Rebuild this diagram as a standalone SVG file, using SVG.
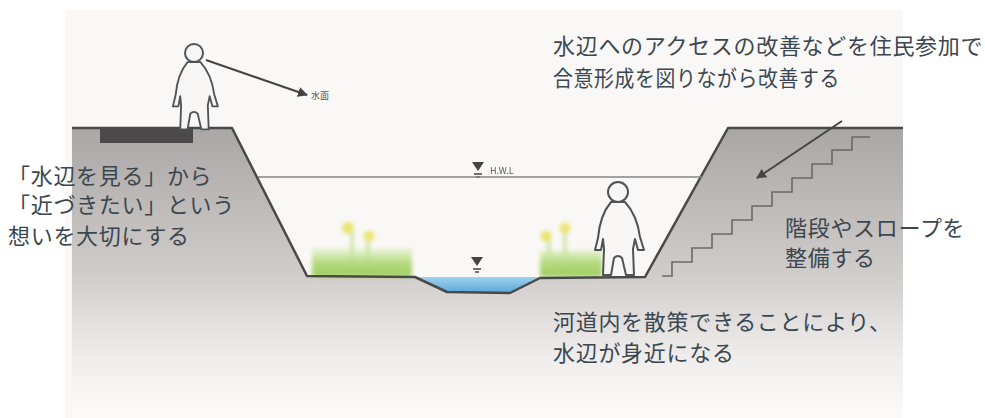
<svg xmlns="http://www.w3.org/2000/svg" xmlns:xlink="http://www.w3.org/1999/xlink" width="985" height="418" viewBox="0 0 985 418">
  <defs>
    <style>
      .label { font-family: "Noto Sans CJK JP", "Noto Sans", sans-serif; font-size: 22px; fill: #3b4750; letter-spacing: 0.7px; }
      .tiny { font-family: "Noto Sans CJK JP", "Liberation Sans", sans-serif; font-size: 9px; fill: #555; }
      .profile { fill: none; stroke: #4a4a4a; stroke-width: 2.5; stroke-linejoin: round; }
      .figure { fill: #f7f6f5; stroke: #4e5357; stroke-width: 2; stroke-linejoin: round; }
      .arrow { stroke: #444; stroke-width: 2; fill: none; }
    </style>
    <linearGradient id="earth" x1="0" y1="128" x2="0" y2="418" gradientUnits="userSpaceOnUse">
      <stop offset="0" stop-color="#aaa6a5"/>
      <stop offset="0.5" stop-color="#d0ccca"/>
      <stop offset="0.8" stop-color="#f0eeed"/>
      <stop offset="1" stop-color="#fcfbfa"/>
    </linearGradient>
    <linearGradient id="water" x1="0" y1="277" x2="0" y2="293" gradientUnits="userSpaceOnUse">
      <stop offset="0" stop-color="#9fd3f0"/>
      <stop offset="1" stop-color="#5aa6d6"/>
    </linearGradient>
    <linearGradient id="grassFill" x1="0" y1="246" x2="0" y2="277" gradientUnits="userSpaceOnUse">
      <stop offset="0" stop-color="#d8ecb4" stop-opacity="0.3"/>
      <stop offset="0.5" stop-color="#b8dc84"/>
      <stop offset="1" stop-color="#9ccd5c"/>
    </linearGradient>
    <filter id="soft" x="-20%" y="-20%" width="140%" height="140%">
      <feGaussianBlur stdDeviation="2"/>
    </filter>
    <filter id="slight" x="-5%" y="-5%" width="110%" height="110%">
      <feGaussianBlur stdDeviation="0.6"/>
    </filter>
    <marker id="head" viewBox="0 0 10 10" refX="9" refY="5" markerWidth="5" markerHeight="5" orient="auto">
      <path d="M0,0 L10,5 L0,10 Z" fill="#444"/>
    </marker>
    <!-- standing figure, head centred at the origin -->
    <path id="body" d="M-7,10 Q-18,23 -20,46 L-23,58 L-17,58 L-15,47 L-14,57 L-15,83 L-7,83 L-4,66 Q0,62 4,66 L8,83 L16,83 L15,57 L17,47 L20,58 L26,58 L22,45 Q19,23 7,10 Z"/>
    <!-- water-level mark -->
    <g id="wl">
      <path d="M-6,-5 L6,-5 L0,4 Z" fill="#444"/>
      <path d="M-4,7 H4 M-2,10 H2" stroke="#444" stroke-width="1.5"/>
    </g>
  </defs>

  <!-- paper -->
  <rect x="0" y="0" width="985" height="418" fill="#ffffff"/>
  <rect x="65" y="10" width="838" height="408" fill="#faf8f7"/>

  <!-- ground section -->
  <g id="ground" filter="url(#slight)">
    <path d="M72,128 L232,128 L307,276 L415,277 L447,292 L510,293 L540,278 L645,277 L728,128 L903,128 L903,418 L72,418 Z" fill="url(#earth)"/>
    <rect x="100" y="129" width="93" height="14" fill="#4c4a4a"/>
  </g>

  <!-- water in the low-flow channel -->
  <g id="water-body" filter="url(#slight)">
    <path d="M418,277 L447,292 L510,293 L540,277 Z" fill="url(#water)"/>
  </g>

  <!-- grass and flowers -->
  <g id="vegetation" filter="url(#soft)">
    <path d="M352,232 V262 M368,240 V262 M549,238 V262 M565,230 V262" stroke="#c2e096" stroke-width="3"/>
    <rect x="312" y="248" width="100" height="29" fill="url(#grassFill)"/>
    <rect x="540" y="250" width="62" height="27" fill="url(#grassFill)"/>
    <circle cx="348" cy="228" r="6" fill="#e9e36a"/>
    <circle cx="369" cy="236" r="5.5" fill="#ebe570"/>
    <circle cx="546" cy="236" r="5.5" fill="#e9e36a"/>
    <circle cx="565" cy="228" r="5.5" fill="#ebe570"/>
  </g>

  <!-- section outline -->
  <g id="outline" filter="url(#slight)">
    <path class="profile" d="M72,128 L232,128 L307,276 L415,277 L447,292 L510,293 L540,278 L645,277 L728,128 L903,128"/>
    <path d="M662,276 H672 V262 H692 V248 H712 V234 H732 V220 H752 V206 H772 V192 H792 V178 H812 V164 H832 V150 H852 V137 H870" fill="none" stroke="#6a6a6a" stroke-width="1.6"/>
  </g>

  <!-- people -->
  <g id="person-left" filter="url(#slight)">
    <circle cx="194" cy="53" r="9" class="figure"/>
    <use xlink:href="#body" class="figure" transform="translate(194,53) scale(0.92)"/>
  </g>
  <g id="person-right" filter="url(#slight)">
    <circle cx="618" cy="192" r="10" class="figure"/>
    <use xlink:href="#body" class="figure" transform="translate(618,192)"/>
  </g>

  <!-- level marks -->
  <g id="level-marks" filter="url(#slight)">
    <use xlink:href="#wl" transform="translate(478,167)"/>
    <text class="tiny" x="490" y="174">H.W.L</text>
    <use xlink:href="#wl" transform="translate(477,262)"/>
  </g>

  <!-- connectors -->
  <g id="connectors">
    <line x1="258" y1="177" x2="703" y2="177" stroke="#858585" stroke-width="1.6"/>
    <line class="arrow" x1="206" y1="60" x2="307" y2="95" marker-end="url(#head)"/>
    <line class="arrow" x1="842" y1="121" x2="757" y2="178" marker-end="url(#head)"/>
  </g>
  <text class="tiny" x="311" y="99">水面</text>

  <!-- captions -->
  <g id="caption-access">
    <text class="label" x="553" y="54">水辺へのアクセスの改善などを住民参加で</text>
    <text class="label" x="553" y="86" textLength="287" lengthAdjust="spacingAndGlyphs">合意形成を図りながら改善する</text>
  </g>
  <g id="caption-view">
    <text class="label" x="8" y="184">「水辺を見る」から</text>
    <text class="label" x="8" y="213">「近づきたい」という</text>
    <text class="label" x="8" y="244">想いを大切にする</text>
  </g>
  <g id="caption-stairs">
    <text class="label" x="785" y="236">階段やスロープを</text>
    <text class="label" x="785" y="266">整備する</text>
  </g>
  <g id="caption-walk">
    <text class="label" x="553" y="330">河道内を散策できることにより、</text>
    <text class="label" x="553" y="361">水辺が身近になる</text>
  </g>
</svg>
